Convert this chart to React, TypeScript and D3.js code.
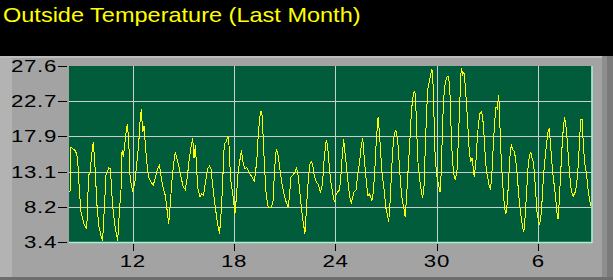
import React from "react";
import * as d3 from "d3";

// ---- data (day of month; days after 30 continue as 31.. = next month) ----
const days: number[] = [
  8.29, 8.35, 8.49, 8.61, 8.74, 8.84, 8.94, 9.14, 9.28, 9.39, 9.47, 9.59, 9.67, 9.79, 9.87, 9.99,
  10.12, 10.22, 10.32, 10.42, 10.58, 10.68, 10.81, 10.97, 11.11, 11.21, 11.31, 11.37, 11.45, 11.52,
  11.6, 11.68, 11.76, 11.84, 11.92, 12.0, 12.12, 12.23, 12.35, 12.43, 12.51, 12.59, 12.67, 12.75,
  12.83, 12.94, 13.1, 13.22, 13.34, 13.46, 13.58, 13.69, 13.81, 13.93, 14.07, 14.13, 14.23, 14.33,
  14.44, 14.52, 14.64, 14.76, 14.88, 14.99, 15.11, 15.23, 15.35, 15.47, 15.55, 15.63, 15.71, 15.78,
  15.86, 15.98,
  16.08, 16.19, 16.31, 16.43, 16.55, 16.63, 16.71, 16.8, 16.9, 17.0, 17.14, 17.26, 17.34, 17.42,
  17.53, 17.63, 17.69, 17.79, 17.93, 18.05, 18.13, 18.24, 18.36, 18.44, 18.52, 18.64, 18.76, 18.88,
  18.99, 19.11, 19.19, 19.27, 19.35, 19.43, 19.51, 19.59, 19.66, 19.74, 19.82, 19.9, 20.02, 20.18,
  20.3, 20.37, 20.45, 20.51, 20.61, 20.73, 20.85, 20.97, 21.08, 21.2, 21.28, 21.36, 21.48, 21.6,
  21.68, 21.76, 21.83, 21.91, 22.03, 22.15, 22.19, 22.27, 22.35, 22.43, 22.5, 22.58, 22.66, 22.74,
  22.86, 22.98, 23.1, 23.18, 23.25, 23.33, 23.45, 23.53, 23.61,
  23.7, 23.79, 23.89, 23.95, 24.03, 24.11, 24.23, 24.31, 24.39, 24.48, 24.54, 24.62, 24.7, 24.78,
  24.86, 24.94, 25.02, 25.1, 25.21, 25.29, 25.37, 25.45, 25.53, 25.61, 25.69, 25.77, 25.85, 25.92,
  26.0, 26.08, 26.16, 26.24, 26.32, 26.4, 26.48, 26.52, 26.6, 26.67, 26.75, 26.87, 26.99, 27.07,
  27.15, 27.23, 27.31, 27.38, 27.46, 27.54, 27.62, 27.7, 27.78, 27.86, 27.94, 28.05, 28.13, 28.21,
  28.29, 28.41, 28.49, 28.57, 28.65, 28.73, 28.8, 28.88, 29.0, 29.08, 29.16, 29.24, 29.32, 29.4,
  29.47, 29.55, 29.63, 29.71, 29.79, 29.87, 29.91, 29.99, 30.11, 30.19, 30.26, 30.34, 30.42, 30.5,
  30.62, 30.7, 30.78, 30.86, 30.93, 31.01, 31.09, 31.21, 31.29,
  31.33, 31.41, 31.47, 31.52, 31.6, 31.68, 31.76, 31.84, 31.92, 32.0, 32.08, 32.16, 32.21, 32.31,
  32.39, 32.47, 32.55, 32.63, 32.71, 32.79, 32.87, 32.94, 33.02, 33.1, 33.18, 33.26, 33.34, 33.42,
  33.5, 33.58, 33.65, 33.69, 33.77, 33.85, 33.93, 34.01, 34.09, 34.17, 34.25, 34.33, 34.4, 34.48,
  34.56, 34.64, 34.72, 34.8, 34.88, 35.0, 35.07, 35.15, 35.23, 35.31, 35.39, 35.47, 35.55, 35.63,
  35.71, 35.78, 35.86, 35.94, 36.06, 36.14, 36.22, 36.3, 36.38, 36.46, 36.57, 36.65, 36.73, 36.85,
  36.97, 37.05, 37.13, 37.17, 37.24, 37.32, 37.4, 37.48, 37.56, 37.64, 37.72, 37.8, 37.88, 37.95,
  38.07, 38.19, 38.27, 38.35, 38.43, 38.51, 38.59, 38.66, 38.74, 38.86, 38.94, 39.02, 39.1,
];

const temps: number[] = [
  10.3, 16.5, 16.1, 16.0, 14.9, 10.7, 7.5, 5.7, 5.2, 12.6, 12.8, 15.8, 17.2, 13.0, 8.9, 5.7,
  4.3, 3.6, 8.0, 12.6, 13.6, 13.5, 8.4, 5.2, 3.6, 7.5, 10.7, 16.0, 15.1, 16.7,
  18.3, 19.6, 17.6, 12.6, 11.2, 10.5, 11.4, 13.9, 16.7, 19.9, 21.7, 18.5, 19.4, 16.7,
  14.4, 12.3, 11.6, 11.2, 12.3, 13.4, 13.9, 12.3, 10.7, 9.8, 7.1, 5.9, 8.9, 12.1,
  14.4, 15.8, 14.6, 13.5, 12.1, 11.0, 10.6, 12.3, 14.9, 16.7, 17.7, 14.9, 16.7, 13.5,
  10.7, 9.6,
  10.0, 9.8, 11.7, 13.5, 13.85, 13.5, 11.7, 9.8, 8.0, 6.2, 4.55, 8.4, 12.6, 16.9,
  17.15, 18.0, 17.15, 12.1, 9.8, 7.3, 9.4, 13.0, 14.9, 16.0, 14.4, 13.5, 13.6, 13.0,
  12.6, 12.1, 11.8, 13.0, 14.9, 18.1, 20.4, 21.4, 20.8, 16.7, 13.0, 9.8, 8.2, 8.1,
  8.9, 12.1, 15.3, 16.2, 15.3, 13.0, 11.2, 9.8, 8.9, 8.2, 9.8, 12.3, 12.6, 13.0,
  13.6, 13.0, 11.7, 9.8, 7.1, 5.2, 4.55, 7.5, 10.7, 13.0, 14.2, 14.4, 13.9, 12.6,
  11.7, 11.3, 10.3, 10.7, 12.1, 14.9, 17.4, 16.7, 14.4,
  12.1, 10.7, 9.4, 8.9, 9.8, 10.3, 10.5, 12.1, 14.9, 17.5, 16.2, 14.4, 12.6, 10.7,
  9.4, 8.8, 9.6, 10.3, 10.5, 12.1, 13.5, 14.9, 16.7, 17.7, 15.3, 13.0, 11.2, 9.8,
  10.0, 9.6, 9.1, 10.3, 13.0, 16.7, 19.4, 20.6, 18.5, 15.8, 13.0, 10.7, 8.0, 7.1,
  6.15, 8.9, 12.6, 15.8, 17.8, 18.75, 18.5, 16.7, 13.9, 11.2, 9.4, 8.0, 6.8, 9.8,
  13.0, 17.6, 21.3, 23.1, 24.1, 23.8, 19.0, 14.4, 11.7, 10.3, 9.4, 11.2, 16.7, 21.7,
  24.5, 25.4, 26.5, 27.1, 24.5, 16.7, 14.9, 12.6, 11.2, 10.3, 13.0, 19.9, 23.6, 25.4,
  26.2, 26.1, 23.6, 17.6, 14.4, 12.6, 11.9, 13.5, 19.0,
  20.4, 26.3, 27.3, 26.3, 26.8, 24.9, 22.2, 19.0, 15.8, 14.4, 14.9, 13.5, 12.3, 14.4,
  17.6, 19.9, 21.05, 21.3, 20.6, 18.1, 14.9, 13.0, 12.1, 11.0, 10.7, 13.0, 16.7, 19.9,
  22.0, 21.7, 23.6, 22.4, 16.7, 13.0, 10.3, 8.0, 7.3, 8.9, 12.1, 15.3, 16.8, 16.1,
  16.0, 15.1, 13.5, 11.2, 8.9, 6.6, 5.4, 4.8, 7.1, 10.3, 13.5, 15.1, 15.8, 14.9,
  14.4, 12.6, 9.8, 7.1, 5.9, 6.4, 8.9, 12.1, 14.4, 16.2, 18.5, 19.1, 16.7, 13.0,
  10.7, 8.9, 6.8, 6.6, 8.9, 12.6, 16.2, 19.0, 20.6, 19.2, 17.2, 14.4, 12.1, 10.5,
  9.7, 10.3, 11.2, 13.5, 16.7, 20.3, 20.3, 17.2, 14.4, 12.6, 10.7, 9.4, 8.4,
];

const xTickDays: number[] = [12, 18, 24, 30, 36];
const xTickLabels: string[] = ["12", "18", "24", "30", "6"];
const yTickValues: number[] = [3.4, 8.24, 13.08, 17.92, 22.76, 27.6];
const yTickLabels: string[] = ["3.4", "8.2", "13.1", "17.9", "22.7", "27.6"];
const title = "Outside Temperature (Last Month)";

const W = 613;
const H = 280;
const L = 69, R = 591.5, T = 66, B = 242;

export default function App() {
  const x = d3.scaleLinear().domain([8.23, 39.15]).range([L, R]);
  const y = d3.scaleLinear().domain([3.4, 27.6]).range([B, T]);
  const pts: [number, number][] = days.map((d, i) => [d, temps[i]]);
  const path = d3
    .line<[number, number]>()
    .x((p) => x(p[0]))
    .y((p) => y(p[1]))(pts) as string;

  const font = "'Liberation Sans', Arial, sans-serif";
  const sx = 1.35;

  return (
    <div style={{ position: "fixed", left: 0, top: 0 }}>
      <svg width={W} height={H} style={{ display: "block" }}>
        <rect x={0} y={0} width={W} height={H} fill="#000" />
        <text
          transform="translate(3,22) scale(1.12,1)"
          fill="#ffff00"
          fontFamily={font}
          fontSize={21}
        >
          {title}
        </text>
        {/* frame */}
        <rect x={0} y={56} width={W} height={H - 56} fill="#a3a3a3" />
        <rect x={0} y={56} width={12} height={H - 56} fill="#b3b3b3" />
        <rect x={0} y={56} width={W} height={2} fill="#bdbdbd" />
        <rect x={602} y={56} width={11} height={H - 56} fill="#8e8e8e" />
        <rect x={607} y={56} width={6} height={H - 56} fill="#7a7a7a" />
        <rect x={0} y={277} width={W} height={3} fill="#6e6e6e" />
        {/* plot */}
        <rect x={L} y={T} width={R - L} height={B - T} fill="#005c3b" />
        <g stroke="#c8d0c8" strokeWidth={1} shapeRendering="crispEdges">
          {yTickValues.slice(1, -1).map((v) => (
            <line key={"h" + v} x1={L} x2={R} y1={Math.round(y(v)) + 0.5} y2={Math.round(y(v)) + 0.5} />
          ))}
          {xTickDays.map((d) => (
            <line key={"v" + d} x1={Math.round(x(d)) + 0.5} x2={Math.round(x(d)) + 0.5} y1={T} y2={B} />
          ))}
        </g>
        <path d={path} fill="none" stroke="#ffff00" strokeWidth={1} shapeRendering="crispEdges" />
        <g stroke="#a8f0d0" strokeWidth={1.5}>
          <line x1={L} x2={R + 0.75} y1={B + 0.5} y2={B + 0.5} />
          <line x1={R + 0.5} x2={R + 0.5} y1={T} y2={B + 1} />
        </g>
        {/* y axis */}
        <g fontFamily={font} fontSize={16.5} fill="#000" letterSpacing={0.5}>
          {yTickValues.map((v, i) => (
            <g key={"yt" + v}>
              <line x1={58} x2={67} y1={Math.round(y(v)) + 0.5} y2={Math.round(y(v)) + 0.5} stroke="#000" />
              <text
                transform={`translate(57,${y(v)}) scale(${sx},1)`}
                dy="0.36em"
                textAnchor="end"
              >
                {yTickLabels[i]}
              </text>
            </g>
          ))}
        </g>
        {/* x axis */}
        <g fontFamily={font} fontSize={16.5} fill="#000" letterSpacing={0.5}>
          {xTickDays.map((d, i) => (
            <g key={"xt" + d}>
              <line x1={Math.round(x(d)) + 0.5} x2={Math.round(x(d)) + 0.5} y1={244} y2={251} stroke="#000" />
              <text transform={`translate(${x(d)},267) scale(${sx},1)`} textAnchor="middle">
                {xTickLabels[i]}
              </text>
            </g>
          ))}
        </g>
      </svg>
    </div>
  );
}
